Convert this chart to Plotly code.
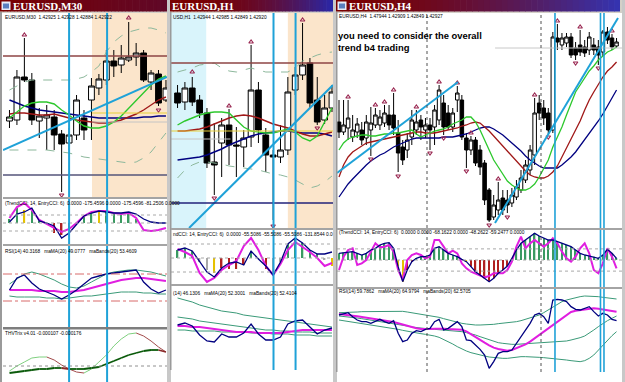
import plotly.graph_objects as go

W, H = 625, 382

# ============ DATA : EURUSD M30 ============
m30_x = list(range(22))
m30_open = [1.4259,1.4260,1.4303,1.4300,1.4259,1.4262,1.4263,1.4246,1.4237,1.4245,1.4262,1.4280,1.4292,1.4300,1.4319,1.4315,1.4320,1.4323,1.4327,1.4298,1.4306,1.4280]
m30_close = [1.4263,1.4303,1.4300,1.4260,1.4264,1.4265,1.4245,1.4236,1.4245,1.4280,1.4250,1.4294,1.4301,1.4319,1.4314,1.4322,1.4323,1.4327,1.4300,1.4307,1.4277,1.4292]
m30_high = [1.4270,1.4310,1.4342,1.4307,1.4272,1.4275,1.4270,1.4250,1.4252,1.4285,1.4270,1.4302,1.4306,1.4330,1.4330,1.4335,1.4358,1.4337,1.4330,1.4310,1.4310,1.4300]
m30_low = [1.4252,1.4255,1.4298,1.4255,1.4242,1.4230,1.4230,1.4188,1.4230,1.4240,1.4240,1.4240,1.4285,1.4295,1.4303,1.4307,1.4318,1.4314,1.4298,1.4290,1.4274,1.4278]
m30_ma_green = [1.4262,1.4268,1.4274,1.4277,1.4278,1.4278,1.4276,1.4270,1.4265,1.4259,1.4254,1.4252,1.4252,1.4254,1.4258,1.4264,1.4272,1.4280,1.4288,1.4295,1.4301,1.4304]
m30_ma_red = [1.4266,1.4267,1.4267,1.4266,1.4265,1.4265,1.4266,1.4264,1.4262,1.4260,1.4259,1.4258,1.4257,1.4257,1.4258,1.4260,1.4263,1.4266,1.4270,1.4275,1.4280,1.4283]
m30_ma_navy = [1.4280,1.4277,1.4274,1.4272,1.4270,1.4269,1.4268,1.4267,1.4266,1.4265,1.4264,1.4263,1.4262,1.4262,1.4262,1.4262,1.4262,1.4262,1.4263,1.4263,1.4264,1.4264]
m30_env_up = [1.4290,1.4294,1.4298,1.4300,1.4300,1.4300,1.4300,1.4300,1.4300,1.4301,1.4303,1.4308,1.4314,1.4328,1.4338,1.4344,1.4348,1.4350,1.4352,1.4352,1.4350,1.4347]
m30_env_dn = [1.4230,1.4230,1.4230,1.4230,1.4230,1.4230,1.4229,1.4228,1.4227,1.4225,1.4223,1.4222,1.4221,1.4220,1.4219,1.4218,1.4217,1.4218,1.4222,1.4228,1.4237,1.4247]
m30_frac_up_x = [2, 16]
m30_frac_up_y = [1.4345, 1.4362]
m30_frac_dn_x = [7, 20]
m30_frac_dn_y = [1.4185, 1.4270]
m30_trend_x = [-0.87, 21.14]
m30_trend_y = [1.4230, 1.4303]
m30_hline_brown = 1.4324
m30_hline_slate = 1.4205
m30_hline_yellow = 1.4267
m30_hline_gray = 1.4258
m30_zone_peach = [11.07, 21.14]
m30_vlines = [8.0, 13.1]

m30_cci_trend = [50,160,200,130,30,-10,-50,-90,-60,0,70,110,120,120,100,90,100,50,-70,-80,-70,-50]
m30_cci_entry = [10,90,110,150,20,0,-30,-150,-100,-10,70,100,120,110,100,100,110,90,40,10,0,0]
m30_cci_hist = [40,150,130,120,20,0,-100,-120,-60,0,60,100,110,110,90,80,90,40,0,0,0,0]
m30_cci_col = list("ggyggkrrrkggyggggg" + "kkkk")
m30_cci_levels = [80, 0, -80]

m30_rsi = [47,59,62,54,48,45,42,38,42,47,53,59,61,63,64,65,66,67,55,48,44,47]
m30_rsi_ma = [47,47,47,47,46,46,46,45,45,46,47,49,51,53,55,57,58,59,59,58,57,56]
m30_rsi_up = [53,58,63,65,63,60,57,53,50,49,51,55,59,63,65,66,67,67,66,65,63,61]
m30_rsi_dn = [41,40,40,40,40,39,39,38,39,40,41,41,42,43,44,45,45,45,44,44,43,43]
m30_rsi_levels = [63, 36]

m30_thv_fast = [-5,0,4,8,9,9,6,1,-3,-6,-7,-3,4,11,20,27,32,33,30,25,19,14]
m30_thv_slow = [-7,-6,-5,-4,-3,-3,-2,-2,-3,-3,-3,-2,-1,2,5,8,11,13,15,16,16,14]

# ============ DATA : EURUSD H1 ============
h1_x = list(range(22))
h1_open = [1.4287,1.4278,1.4292,1.4280,1.4267,1.4218,1.4237,1.4255,1.4235,1.4233,1.4243,1.4290,1.4245,1.4225,1.4223,1.4230,1.4290,1.4305,1.4317,1.4280,1.4260,1.4272]
h1_close = [1.4277,1.4292,1.4278,1.4267,1.4217,1.4215,1.4255,1.4235,1.4234,1.4242,1.4290,1.4250,1.4225,1.4223,1.4230,1.4288,1.4305,1.4315,1.4277,1.4258,1.4272,1.4288]
h1_high = [1.4295,1.4298,1.4303,1.4285,1.4272,1.4257,1.4262,1.4271,1.4253,1.4250,1.4335,1.4298,1.4252,1.4230,1.4255,1.4303,1.4313,1.4357,1.4322,1.4303,1.4285,1.4295]
h1_low = [1.4272,1.4270,1.4274,1.4262,1.4212,1.4185,1.4203,1.4215,1.4203,1.4213,1.4233,1.4237,1.4208,1.4160,1.4217,1.4225,1.4285,1.4300,1.4272,1.4255,1.4256,1.4268]
h1_ma_green = [1.4255,1.4259,1.4262,1.4265,1.4267,1.4268,1.4268,1.4267,1.4260,1.4253,1.4249,1.4248,1.4247,1.4247,1.4249,1.4251,1.4248,1.4242,1.4239,1.4244,1.4258,1.4272]
h1_ma_red = [1.4249,1.4249,1.4250,1.4251,1.4253,1.4256,1.4259,1.4262,1.4264,1.4265,1.4264,1.4262,1.4259,1.4256,1.4254,1.4252,1.4249,1.4246,1.4244,1.4244,1.4246,1.4248]
h1_ma_navy = [1.4220,1.4221,1.4222,1.4223,1.4225,1.4228,1.4231,1.4235,1.4238,1.4241,1.4244,1.4246,1.4247,1.4248,1.4249,1.4249,1.4248,1.4247,1.4247,1.4247,1.4246,1.4244]
h1_env_up = [1.4308,1.4310,1.4312,1.4315,1.4316,1.4317,1.4312,1.4309,1.4308,1.4310,1.4312,1.4310,1.4308,1.4308,1.4308,1.4308,1.4312,1.4319,1.4322,1.4325,1.4327,1.4328]
h1_env_dn = [1.4202,1.4210,1.4215,1.4218,1.4218,1.4217,1.4216,1.4214,1.4213,1.4212,1.4211,1.4210,1.4208,1.4206,1.4205,1.4203,1.4200,1.4196,1.4192,1.4194,1.4198,1.4204]
h1_frac_up_x = [2, 7, 10, 17]
h1_frac_up_y = [1.4308, 1.4274, 1.4338, 1.4360]
h1_frac_dn_x = [5, 13, 19]
h1_frac_dn_y = [1.4182, 1.4154, 1.4252]
h1_trend_x = [1.57, 21.14]
h1_trend_y = [1.4152, 1.4295]
h1_hline_brown = 1.4317
h1_hline_yellow = 1.4249
h1_hline_navy = 1.4177
h1_hline_gray = 1.4241
h1_hline_gray_span = [-0.89, 7.2]
h1_zone_cyan = [-0.89, 3.9]
h1_zone_peach = [15.0, 21.14]
h1_vlines = [13.05, 16.05]

h1_cci_trend = [90,60,20,-150,-240,-200,-120,-70,-30,120,200,80,-80,-170,-60,80,160,110,60,0,-80,-50]
h1_cci_entry = [80,100,70,-40,-140,-190,-100,-50,-40,-70,70,-10,-80,-170,-40,140,200,150,80,40,40,60]
h1_cci_hist = [80,100,70,-40,-120,-150,-100,-110,-110,-70,70,-10,-110,-150,-40,140,200,150,80,40,-20,-80]
h1_cci_col = list("gggkkyrrrrgkrkkgggggky")
h1_cci_levels = [140, 0, -140]

h1_rsi = [55,57,54,45,39,38,46,43,43,47,56,46,40,40,43,56,59,60,53,46,50,52]
h1_rsi_ma = [54,54,53,53,52,51,50,49,48,48,48,47,47,47,47,48,49,50,50,50,50,50]
h1_rsi_up = [82,80,78,75,73,71,69,68,67,65,64,63,62,61,60,59,58,57,56,55,54,53]
h1_rsi_mid = [63,62,61,59,58,57,56,55,54,53,52,51,50,50,49,49,48,48,48,47,47,47]
h1_rsi_dn = [50,50,49,49,49,49,48,48,48,48,47,47,47,46,46,46,45,45,45,44,44,44]

# ============ DATA : EURUSD H4 ============
h4_x = list(range(62))
h4_open = [1.4208,1.4198,1.4202,1.4193,1.4198,1.4200,1.4192,1.4200,1.4205,1.4205,
           1.4207,1.4215,1.4215,1.4197,1.4183,1.4180,1.4193,1.4200,1.4210,1.4200,
           1.4205,1.4203,1.4210,1.4227,1.4217,1.4203,1.4230,1.4230,1.4192,1.4180,
           1.4190,1.4180,1.4167,1.4140,1.4113,1.4120,1.4132,1.4130,1.4127,1.4133,
           1.4140,1.4150,1.4160,1.4175,1.4227,1.4222,1.4217,1.4200,1.4292,1.4285,
           1.4287,1.4293,1.4282,1.4285,1.4283,1.4280,1.4285,1.4283,1.4278,1.4298,
           1.4292,1.4284]
h4_close = [1.4198,1.4205,1.4212,1.4200,1.4206,1.4190,1.4208,1.4207,1.4215,1.4213,
            1.4217,1.4205,1.4202,1.4177,1.4170,1.4190,1.4210,1.4208,1.4203,1.4205,
            1.4200,1.4220,1.4240,1.4203,1.4203,1.4217,1.4237,1.4193,1.4180,1.4190,
            1.4167,1.4163,1.4130,1.4110,1.4125,1.4130,1.4120,1.4125,1.4135,1.4143,
            1.4152,1.4165,1.4180,1.4217,1.4217,1.4212,1.4200,1.4293,1.4288,1.4292,
            1.4293,1.4275,1.4275,1.4278,1.4277,1.4293,1.4280,1.4275,1.4298,1.4290,
            1.4283,1.4288]
h4_high = [1.4230,1.4230,1.4230,1.4215,1.4212,1.4208,1.4215,1.4223,1.4222,1.4220,
           1.4225,1.4225,1.4237,1.4210,1.4190,1.4197,1.4220,1.4220,1.4215,1.4212,
           1.4212,1.4225,1.4245,1.4235,1.4225,1.4222,1.4244,1.4235,1.4197,1.4194,
           1.4193,1.4185,1.4170,1.4142,1.4135,1.4148,1.4140,1.4140,1.4142,1.4150,
           1.4160,1.4170,1.4185,1.4232,1.4235,1.4230,1.4222,1.4298,1.4306,1.4297,
           1.4297,1.4297,1.4288,1.4300,1.4290,1.4298,1.4292,1.4290,1.4300,1.4303,
           1.4296,1.4292]
h4_low = [1.4192,1.4195,1.4190,1.4188,1.4192,1.4185,1.4185,1.4174,1.4202,1.4200,
          1.4203,1.4200,1.4195,1.4158,1.4165,1.4172,1.4185,1.4195,1.4190,1.4192,
          1.4180,1.4185,1.4205,1.4195,1.4200,1.4198,1.4218,1.4190,1.4162,1.4175,
          1.4164,1.4155,1.4125,1.4108,1.4110,1.4115,1.4115,1.4117,1.4123,1.4130,
          1.4137,1.4147,1.4155,1.4165,1.4210,1.4205,1.4196,1.4197,1.4280,1.4280,
          1.4283,1.4272,1.4270,1.4274,1.4273,1.4275,1.4275,1.4265,1.4274,1.4286,
          1.4280,1.4282]
h4_ma_green = [1.4180,1.4187,1.4191,1.4193,1.4194,1.4195,1.4195,1.4194,1.4194,1.4195,
               1.4196,1.4196,1.4197,1.4197,1.4198,1.4199,1.4200,1.4196,1.4193,1.4195,
               1.4197,1.4199,1.4200,1.4201,1.4203,1.4206,1.4208,1.4210,1.4213,1.4213,
               1.4208,1.4200,1.4190,1.4180,1.4170,1.4163,1.4156,1.4149,1.4145,1.4142,
               1.4140,1.4140,1.4142,1.4146,1.4153,1.4161,1.4170,1.4183,1.4193,1.4203,
               1.4215,1.4227,1.4238,1.4245,1.4252,1.4259,1.4264,1.4270,1.4274,1.4278,
               1.4280,1.4283]
h4_ma_red = [1.4153,1.4165,1.4173,1.4178,1.4181,1.4184,1.4187,1.4188,1.4189,1.4190,
             1.4191,1.4192,1.4193,1.4194,1.4195,1.4196,1.4197,1.4198,1.4198,1.4197,
             1.4197,1.4197,1.4198,1.4199,1.4200,1.4201,1.4202,1.4204,1.4205,1.4207,
             1.4208,1.4207,1.4203,1.4199,1.4194,1.4189,1.4184,1.4178,1.4173,1.4169,
             1.4164,1.4159,1.4155,1.4153,1.4152,1.4152,1.4154,1.4158,1.4164,1.4173,
             1.4182,1.4190,1.4199,1.4209,1.4220,1.4230,1.4238,1.4246,1.4253,1.4259,
             1.4263,1.4268]
h4_ma_navy = [1.4133,1.4140,1.4146,1.4151,1.4156,1.4160,1.4165,1.4169,1.4172,1.4175,
              1.4177,1.4180,1.4183,1.4185,1.4187,1.4189,1.4191,1.4192,1.4192,1.4192,
              1.4192,1.4192,1.4192,1.4193,1.4193,1.4193,1.4194,1.4195,1.4196,1.4198,
              1.4200,1.4202,1.4203,1.4203,1.4201,1.4198,1.4195,1.4191,1.4187,1.4183,
              1.4179,1.4174,1.4170,1.4167,1.4164,1.4162,1.4162,1.4162,1.4162,1.4165,
              1.4169,1.4173,1.4178,1.4184,1.4190,1.4196,1.4202,1.4209,1.4216,1.4224,
              1.4232,1.4240]
h4_frac_up_x = [2, 8, 10, 12, 17, 22, 26, 29, 35, 43, 48, 53, 60]
h4_frac_up_y = [1.4233,1.4225,1.4228,1.4240,1.4223,1.4248,1.4247,1.4197,1.4151,1.4235,1.4309,1.4303,1.4299]
h4_frac_dn_x = [7, 13, 20, 23, 28, 33, 37, 46, 52, 57]
h4_frac_dn_y = [1.4171,1.4154,1.4177,1.4192,1.4159,1.4105,1.4113,1.4193,1.4267,1.4262]
h4_trend1_x = [-0.44, 26.15]
h4_trend1_y = [1.4157, 1.4248]
h4_trend2_x = [34.29, 61.32]
h4_trend2_y = [1.4107, 1.4312]
h4_hline_gray = 1.4282
h4_hline_gray_span = [34.3, 62.2]
h4_period_seps = [19.34, 44.4]
h4_vlines = [47.47, 57.47, 58.24]

h4_cci_trend = [-90,30,90,105,-45,-30,0,75,150,114,120,135,75,-90,-180,0,45,60,45,15,
                30,180,180,120,60,84,60,-30,-75,-105,-120,-135,-156,-144,-120,-120,-120,-90,-15,120,
                210,105,150,180,150,120,150,195,150,75,15,-15,30,105,150,60,-90,-120,-30,105,
                30,-75]
h4_cci_entry = [60,66,66,75,60,45,60,90,105,135,150,156,105,-60,-195,-90,-15,15,30,30,
                45,105,120,90,60,45,30,6,-15,-60,-105,-135,-165,-195,-165,-120,-90,-54,15,90,
                150,180,210,240,216,195,180,180,165,150,135,120,90,60,45,36,30,15,45,96,
                60,15]
h4_cci_col = list("ggggggggggggg" + "yy" + "rr" + "gggggggggg" + "yy" + "rrrrrrrrr" + "y" + "ggggggggggggggggggggggg")
h4_cci_levels = [100, 0, -100]

h4_rsi = [65,65.6,66.4,64,62,61,61,60,61,62.4,61,60,61.6,54,49,50,54,55.6,55,56.4,
          57,61,62.4,56,57,59,61,58,50,49.6,47,44.4,41,33,37,42,43,43,44,48,
          52,56,60,65,66,64,60,74,74.4,74,73,70,68.4,68,69,70,67,64.4,66,65,
          62.4,61.6]
h4_rsi_ma = [65.6,65.4,65,64.6,64.2,63.8,63.4,63,62.6,62.2,61.8,61.4,60.8,60,59.2,58.4,57.6,57,56.6,56.4,
             56.6,56.8,57,56.8,56.6,56.4,56.4,56.2,55.2,53.4,51.6,50,48.4,46.8,45.4,44.6,44,43.6,44,45,
             46,47.4,49,51,53,55,57,59,61,63,65,66.8,67.6,68,68.4,68.8,69,68.8,68.4,68,
             67.6,67]
h4_rsi_up = [66.4,66.4,66.6,66.8,66.8,67,67,67.2,67.2,67.4,67.4,67.4,67.4,67.4,67.2,66.8,66.4,66,65.6,65.2,
             64.8,64.4,63.6,62.8,62,61.2,60.4,60,59.6,59.2,59,59,59,59.2,59.4,59.8,60,60.2,60.6,61,
             61.6,62.4,63.2,64,65,66.4,68,70,71.6,73,74,74.8,75.6,76,76.4,76.4,76.2,76,75.6,75.2,
             75,74.6]
h4_rsi_mid = [64.4,64.2,64,63.6,63.2,62.8,62.4,62,61.6,61.2,60.8,60.4,60,59.6,59,58.4,57.8,57.4,57,56.8,
              56.6,56.4,56.2,56,55.8,55.6,55.4,55,54.4,53.8,53,52,51,50,49,48.4,48,47.6,47.4,47.4,
              47.6,47.8,48,48,48,48.2,48.4,48.6,48.8,49,49.4,50,50.6,51.4,52.4,54,56,58,60,61.6,
              63,64.4]
h4_rsi_dn = [62,61.6,61.2,60.8,60.4,60,59.6,59.2,58.8,58.4,58,57.6,57,56.4,55.8,55.2,54.6,54.2,53.8,53.4,
             53,52.4,51.6,50.4,49,47.6,46,44.6,43.4,42.4,41.6,41,40.4,39.8,39.4,39,39,39,39.4,39.8,
             40,40,40,39.8,39.6,39.4,39.2,39,38.8,38.4,38,37.6,37.2,37,37.6,39,41,44,47,50,
             52.6,55]

# ---- text ----
title_m30, title_h1, title_h4 = "EURUSD,M30", "EURUSD,H1", "EURUSD,H4"
note_lines = ["you need to consider the overall", "trend b4 trading"]
hdr = {
    1: "EURUSD,M30  1.42925 1.42928 1.42884 1.42922",
    2: "(TrendCCI: 14, EntryCCI: 6)  0.0000 -175.4596 0.0000 -175.4596 -81.2506 0.0000",
    3: "RSI(14) 40.3168   maMA(20) 49.0777   maBands(20) 53.4609",
    4: "THVTrix v4.01 -0.000107 -0.000176",
    5: "USD,H1  1.42944 1.42985 1.42849 1.42920",
    6: "ndCCI: 14, EntryCCI: 6)  0.0000 -55.5086 -55.5086 -55.5086 -131.8544 0.0",
    7: "(14) 46.1306   maMA(20) 52.3001   maBands(20) 52.4104",
    8: "EURUSD,H4  1.47944 1.42909 1.42849 1.42927",
    9: "(TrendCCI: 14, EntryCCI: 6)  0.0000 0.0000 -68.1622 0.0000 -48.2622 -59.2477 0.0000",
    10: "RSI(14) 59.7862   maMA(20) 64.9794   maBands(20) 62.5705",
}

for name, arrs, n in [("m30", [m30_open, m30_close, m30_high, m30_low, m30_ma_green, m30_ma_red, m30_ma_navy, m30_env_up, m30_env_dn,
                                m30_cci_trend, m30_cci_entry, m30_cci_hist, m30_cci_col, m30_rsi, m30_rsi_ma, m30_rsi_up, m30_rsi_dn,
                                m30_thv_fast, m30_thv_slow], 22),
                      ("h1", [h1_open, h1_close, h1_high, h1_low, h1_ma_green, h1_ma_red, h1_ma_navy, h1_env_up, h1_env_dn,
                              h1_cci_trend, h1_cci_entry, h1_cci_hist, h1_cci_col, h1_rsi, h1_rsi_ma, h1_rsi_up, h1_rsi_mid, h1_rsi_dn], 22),
                      ("h4", [h4_open, h4_close, h4_high, h4_low, h4_ma_green, h4_ma_red, h4_ma_navy,
                              h4_cci_trend, h4_cci_entry, h4_cci_col, h4_rsi, h4_rsi_ma, h4_rsi_up, h4_rsi_mid, h4_rsi_dn], 62)]:
    for k, a in enumerate(arrs):
        assert len(a) == n, (name, k, len(a))

# ============ STYLE ============
CYAN = "#1FA2D8"
GREEN = "#2DC82D"
RED = "#A01818"
NAVY = "#000080"
MAG = "#E01EE0"
TEAL = "#3A9A78"
FRAC = "#9A2852"
ENV = "#8DB89C"
HCOL = {"g": "#3A9A62", "r": "#B02020", "y": "#E6C200", "k": "#A8A8A8"}

# panel: (x0px, x1px, y0px, y1px, xrange, yrange)
panels = {
    1: (3, 167, 13, 197, [-0.87, 21.14], [1.4183, 1.4367]),
    2: (3, 167, 199, 244, [-0.87, 21.14], [-210, 240]),
    3: (3, 167, 246, 327, [-0.87, 21.14], [10, 91]),
    4: (3, 167, 329, 382, [-0.87, 21.14], [-16, 37]),
    5: (171, 333, 13, 228, [-0.89, 21.14], [1.4152, 1.4367]),
    6: (171, 333, 230, 284, [-0.89, 21.14], [-260, 280]),
    7: (171, 333, 286, 370, [-0.89, 21.14], [10, 94]),
    8: (337, 622, 13, 228, [-0.44, 62.2], [1.4102, 1.4317]),
    9: (337, 622, 230, 287, [-0.44, 62.2], [-243, 270]),
    10: (337, 622, 289, 372, [-0.44, 62.2], [30.8, 80.6]),
}


def sfx(k):
    return "" if k == 1 else str(k)


def ax(k):
    return dict(xaxis="x" + sfx(k), yaxis="y" + sfx(k))


layout_axes = {}
for k, (x0, x1, y0, y1, xr, yr) in panels.items():
    layout_axes["xaxis" + sfx(k)] = dict(domain=[x0 / W, x1 / W], range=xr, visible=False, fixedrange=True,
                                         anchor="y" + sfx(k), rangeslider=dict(visible=False), showgrid=False, zeroline=False)
    layout_axes["yaxis" + sfx(k)] = dict(domain=[1 - y1 / H, 1 - y0 / H], range=yr, visible=False, fixedrange=True,
                                         anchor="x" + sfx(k), showgrid=False, zeroline=False)

fig = go.Figure()


def candles(k, x, o, h, l, c):
    fig.add_trace(go.Candlestick(x=x, open=o, high=h, low=l, close=c, whiskerwidth=0,
                                 increasing=dict(line=dict(color="black", width=1), fillcolor="white"),
                                 decreasing=dict(line=dict(color="black", width=1), fillcolor="black"),
                                 hoverinfo="skip", showlegend=False, **ax(k)))


def line(k, x, y, color, width=1.2, dash="solid"):
    fig.add_trace(go.Scatter(x=x, y=y, mode="lines", line=dict(color=color, width=width, dash=dash),
                             hoverinfo="skip", showlegend=False, **ax(k)))


def fractals(k, ux, uy, dx, dy):
    fig.add_trace(go.Scatter(x=ux, y=uy, mode="markers", hoverinfo="skip", showlegend=False,
                             marker=dict(symbol="triangle-up-open", size=4, color=FRAC, line=dict(width=1.1)), **ax(k)))
    fig.add_trace(go.Scatter(x=dx, y=dy, mode="markers", hoverinfo="skip", showlegend=False,
                             marker=dict(symbol="triangle-down-open", size=4, color=FRAC, line=dict(width=1.1)), **ax(k)))


def hist(k, x, y, cols, width):
    fig.add_trace(go.Bar(x=x, y=y, width=width, marker=dict(color=[HCOL[c] for c in cols], line=dict(width=0)),
                         hoverinfo="skip", showlegend=False, **ax(k)))


def updown(k, x, y, up_col, dn_col, width):
    ux, uy, dx, dy = [], [], [], []
    for i in range(1, len(y)):
        if y[i] >= y[i - 1]:
            ux += [x[i - 1], x[i], None]; uy += [y[i - 1], y[i], None]
        else:
            dx += [x[i - 1], x[i], None]; dy += [y[i - 1], y[i], None]
    line(k, ux, uy, up_col, width)
    line(k, dx, dy, dn_col, width)


# ---- M30 ----
candles(1, m30_x, m30_open, m30_high, m30_low, m30_close)
line(1, m30_x, m30_env_up, ENV, 1, "dash")
line(1, m30_x, m30_env_dn, ENV, 1, "dash")
line(1, m30_x, m30_ma_navy, NAVY, 1.5)
line(1, m30_x, m30_ma_red, RED, 1.4)
line(1, m30_x, m30_ma_green, GREEN, 1.4)
fractals(1, m30_frac_up_x, m30_frac_up_y, m30_frac_dn_x, m30_frac_dn_y)
line(1, m30_trend_x, m30_trend_y, CYAN, 2)

hist(2, m30_x, m30_cci_hist, m30_cci_col, 0.2)
line(2, m30_x, m30_cci_trend, MAG, 2)
line(2, m30_x, m30_cci_entry, NAVY, 1.3)

line(3, m30_x, m30_rsi_up, TEAL, 1)
line(3, m30_x, m30_rsi_dn, TEAL, 1)
line(3, m30_x, m30_rsi_ma, MAG, 2)
line(3, m30_x, m30_rsi, NAVY, 1.3)

updown(4, m30_x, m30_thv_fast, "#7FD07F", "#A24A4A", 1)
updown(4, m30_x, m30_thv_slow, "#0A5A0A", "#8A2A2A", 1.8)

# ---- H1 ----
candles(5, h1_x, h1_open, h1_high, h1_low, h1_close)
line(5, h1_x, h1_env_up, ENV, 1, "dash")
line(5, h1_x, h1_env_dn, ENV, 1, "dash")
line(5, h1_x, h1_ma_navy, NAVY, 1.5)
line(5, h1_x, h1_ma_red, RED, 1.4)
line(5, h1_x, h1_ma_green, GREEN, 1.4)
fractals(5, h1_frac_up_x, h1_frac_up_y, h1_frac_dn_x, h1_frac_dn_y)
line(5, h1_trend_x, h1_trend_y, CYAN, 2)

hist(6, h1_x, h1_cci_hist, h1_cci_col, 0.2)
line(6, h1_x, h1_cci_trend, MAG, 2)
line(6, h1_x, h1_cci_entry, NAVY, 1.3)

line(7, h1_x, h1_rsi_up, TEAL, 1)
line(7, h1_x, h1_rsi_mid, TEAL, 1)
line(7, h1_x, h1_rsi_dn, TEAL, 1)
line(7, h1_x, h1_rsi_ma, MAG, 2)
line(7, h1_x, h1_rsi, NAVY, 1.3)

# ---- H4 ----
candles(8, h4_x, h4_open, h4_high, h4_low, h4_close)
line(8, h4_x, h4_ma_navy, NAVY, 1.3)
line(8, h4_x, h4_ma_red, RED, 1.3)
line(8, h4_x, h4_ma_green, GREEN, 1.3)
fractals(8, h4_frac_up_x, h4_frac_up_y, h4_frac_dn_x, h4_frac_dn_y)
line(8, h4_trend1_x, h4_trend1_y, CYAN, 2)
line(8, h4_trend2_x, h4_trend2_y, CYAN, 2)

hist(9, h4_x, h4_cci_entry, h4_cci_col, 0.3)
line(9, h4_x, h4_cci_trend, MAG, 2)
line(9, h4_x, h4_cci_entry, NAVY, 1.3)

line(10, h4_x, h4_rsi_up, TEAL, 1)
line(10, h4_x, h4_rsi_mid, TEAL, 1)
line(10, h4_x, h4_rsi_dn, TEAL, 1)
line(10, h4_x, h4_rsi_ma, MAG, 2)
line(10, h4_x, h4_rsi, NAVY, 1.3)

# ============ SHAPES ============
shapes = []


def prect(x0, y0, x1, y1, color, layer="above"):
    shapes.append(dict(type="rect", xref="paper", yref="paper", x0=x0 / W, x1=x1 / W, y0=1 - y1 / H, y1=1 - y0 / H,
                       fillcolor=color, line=dict(width=0), layer=layer))


def zone(k, span, color):
    shapes.append(dict(type="rect", xref="x" + sfx(k), yref="y" + sfx(k) + " domain", x0=span[0], x1=span[1], y0=0, y1=1,
                       fillcolor=color, line=dict(width=0), layer="below"))


def hline(k, yv, color, width=1, dash="solid", span=None):
    if span is None:
        shapes.append(dict(type="line", xref="x" + sfx(k) + " domain", yref="y" + sfx(k), x0=0, x1=1, y0=yv, y1=yv,
                           line=dict(color=color, width=width, dash=dash), layer="above"))
    else:
        shapes.append(dict(type="line", xref="x" + sfx(k), yref="y" + sfx(k), x0=span[0], x1=span[1], y0=yv, y1=yv,
                           line=dict(color=color, width=width, dash=dash), layer="above"))


def vline(k, xv, ytop, ybot, color, width=2, dash="solid"):
    shapes.append(dict(type="line", xref="x" + sfx(k), yref="paper", x0=xv, x1=xv, y0=1 - ybot / H, y1=1 - ytop / H,
                       line=dict(color=color, width=width, dash=dash), layer="above"))


# background zones
zone(1, m30_zone_peach, "#FBE5CB")
zone(5, h1_zone_cyan, "#D9F4FB")
zone(5, h1_zone_peach, "#FBE5CB")

# horizontal objects
hline(1, m30_hline_brown, "#8E4444", 1.5)
hline(1, m30_hline_slate, "#55557A", 1.5)
hline(1, m30_hline_yellow, "#E8CF3A", 1.2, span=[m30_zone_peach[0], m30_zone_peach[1]])
hline(1, m30_hline_gray, "#C4C4C4", 1, span=[m30_zone_peach[0], m30_zone_peach[1]])
hline(5, h1_hline_brown, "#8E4444", 1.5)
hline(5, h1_hline_yellow, "#E8CF3A", 1.2)
hline(5, h1_hline_gray, "#C4C4C4", 1, span=h1_hline_gray_span)
hline(5, h1_hline_navy, "#22227A", 1.5)
hline(8, h4_hline_gray, "#C8C8C8", 1, span=h4_hline_gray_span)

# indicator levels
for lv in m30_cci_levels:
    hline(2, lv, "#A8A8A8", 1, "dot")
for lv in h1_cci_levels:
    hline(6, lv, "#A8A8A8", 1, "dot")
for lv in h4_cci_levels:
    hline(9, lv, "#A8A8A8", 1, "dot")
for lv in m30_rsi_levels:
    hline(3, lv, "#D86A6A", 1, "dashdot")
hline(4, 0, "#909090", 1, "dot")

# vertical objects
for xv in m30_vlines:
    vline(1, xv, 13, 382, CYAN, 2)
for xv in h1_vlines:
    vline(5, xv, 13, 370, CYAN, 2)
for xv in h4_period_seps:
    vline(8, xv, 13, 372, "#505050", 1, "dot")
for xv in h4_vlines:
    vline(8, xv, 13, 372, CYAN, 1.6)

# window chrome
prect(0, 0, 625, 13, "#D4D0C8")
prect(167, 0, 171, 382, "#C8C8C8")
prect(333, 0, 337, 382, "#C8C8C8")
prect(622, 0, 625, 382, "#C8C8C8")
prect(0, 12, 2, 382, "#9A9A9A")
prect(170, 12, 171.5, 370, "#9A9A9A")
prect(336, 12, 337.5, 372, "#9A9A9A")
for (x0, x1, yy) in [(3, 167, 198), (3, 167, 245), (171, 333, 229), (171, 333, 285), (337, 622, 229), (337, 622, 288)]:
    prect(x0, yy - 1, x1, yy + 1, "#A4A4A4")
prect(3, 327, 167, 329.5, "#7E7E7E")


def gradient_bar(x0, x1, c0, c1, power, n=48):
    for j in range(n):
        t = ((j + 0.5) / n) ** power
        c = tuple(int(round(c0[m] + (c1[m] - c0[m]) * t)) for m in range(3))
        xa = x0 + (x1 - x0) * j / n
        xb = min(x0 + (x1 - x0) * (j + 1) / n + 0.6, x1)
        prect(xa, 0, xb, 11.5, "rgb(%d,%d,%d)" % c)


gradient_bar(0, 167, (122, 0, 0), (96, 8, 40), 1.0)
gradient_bar(170, 333, (122, 0, 0), (40, 40, 170), 2.2)
gradient_bar(336, 620, (122, 0, 0), (52, 52, 178), 1.6)
for ix in [1.5, 337.5]:
    prect(ix, 1.5, ix + 9, 10, "#E8ECF8")
    prect(ix + 1.5, 3.5, ix + 7.5, 8.5, "#5A7FC0")

# ============ ANNOTATIONS ============
ann = []


def ptext(x, y, text, size, color="black", family="Liberation Sans", bold=False):
    ann.append(dict(xref="paper", yref="paper", x=x / W, y=1 - y / H, text=("<b>%s</b>" % text) if bold else text,
                    showarrow=False, xanchor="left", yanchor="middle", borderpad=0,
                    font=dict(size=size, color=color, family=family)))


ptext(12, 6, title_m30, 11, "white", "Liberation Serif", True)
ptext(171, 6, title_h1, 11, "white", "Liberation Serif", True)
ptext(348, 6, title_h4, 11, "white", "Liberation Serif", True)
hdr_pos = {1: (4, 17), 2: (4, 203), 3: (4, 251), 4: (4, 333), 5: (172, 17), 6: (172, 234),
           7: (172, 293), 8: (338, 16), 9: (338, 233), 10: (338, 291)}
for k, (hx, hy) in hdr_pos.items():
    ptext(hx, hy, hdr[k], 4.8)
ptext(337, 35, note_lines[0], 9.4, "black", "Liberation Sans", True)
ptext(337, 47, note_lines[1], 9.4, "black", "Liberation Sans", True)

fig.update_layout(width=W, height=H, autosize=False, margin=dict(l=0, r=0, t=0, b=0, pad=0),
                  paper_bgcolor="white", plot_bgcolor="white", showlegend=False,
                  boxgap=0.22, boxgroupgap=0.0, shapes=shapes, annotations=ann, **layout_axes)

fig.write_html("out.html", config={"displayModeBar": False})
